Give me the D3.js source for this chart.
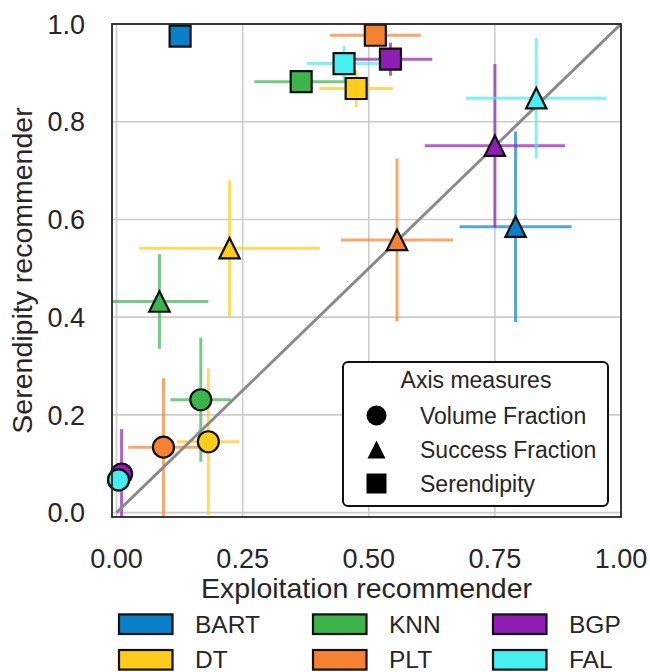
<!DOCTYPE html>
<html>
<head>
<meta charset="utf-8">
<script src="https://cdn.jsdelivr.net/npm/d3@7"></script>
<style>
  html, body { margin: 0; padding: 0; background: #fff; }
  svg { display: block; font-family: "Liberation Sans", Arial, sans-serif; }
</style>
</head>
<body>
<svg id="chart" width="650" height="672"></svg>
<script>
// ---- data (model order: BART, DT, KNN, PLT, BGP, FAL) ----
const models = ["BART", "DT", "KNN", "PLT", "BGP", "FAL"];
const modelColors = ["#0a80c8", "#fecc1a", "#3cb44b", "#f58231", "#911eb4", "#46f0f0"];

// Volume Fraction (circles)
const volX    = [0.004, 0.182, 0.167, 0.093, 0.010, 0.004];
const volY    = [0.067, 0.145, 0.231, 0.134, 0.079, 0.067];
const volXErr = [0, 0.062, 0.060, 0.070, 0, 0];
const volYErr = [0, 0.150, 0.127, 0.141, 0.092, 0];

// Success Fraction (triangles)
const sucX    = [0.791, 0.224, 0.085, 0.556, 0.750, 0.832];
const sucY    = [0.585, 0.541, 0.432, 0.558, 0.751, 0.848];
const sucXErr = [0.111, 0.179, 0.097, 0.111, 0.139, 0.139];
const sucYErr = [0.195, 0.139, 0.097, 0.167, 0.167, 0.123];

// Serendipity (squares)
const serX    = [0.126, 0.475, 0.366, 0.513, 0.543, 0.451];
const serY    = [0.975, 0.868, 0.882, 0.977, 0.928, 0.919];
const serXErr = [0, 0.073, 0.093, 0.090, 0.083, 0.074];
const serYErr = [0, 0.038, 0, 0, 0.034, 0.036];

const xTicks = [0, 0.25, 0.5, 0.75, 1.0];
const yTicks = [0, 0.2, 0.4, 0.6, 0.8, 1.0];
const measureNames = ["Volume Fraction", "Success Fraction", "Serendipity"];
const measureShapes = ["circle", "triangle", "square"];
const xLabel = "Exploitation recommender";
const yLabel = "Serendipity recommender";
const legendTitle = "Axis measures";

// ---- layout ----
const svg = d3.select("#chart");
const L = 112, R = 621, T = 24, B = 517;
const x = d3.scaleLinear().domain([-0.009, 1.0]).range([L, R]);
const y = d3.scaleLinear().domain([-0.009, 1.0]).range([B, T]);
const textColor = "#262626";

svg.append("defs").append("clipPath").attr("id", "clip")
  .append("rect").attr("x", L).attr("y", T).attr("width", R - L).attr("height", B - T);

// grid
const grid = svg.append("g");
grid.selectAll("line.gx").data(xTicks).join("line")
  .attr("x1", d => x(d)).attr("x2", d => x(d)).attr("y1", T).attr("y2", B)
  .attr("stroke", "#cccccc").attr("stroke-width", 1.6);
grid.selectAll("line.gy").data(yTicks).join("line")
  .attr("y1", d => y(d)).attr("y2", d => y(d)).attr("x1", L).attr("x2", R)
  .attr("stroke", "#cccccc").attr("stroke-width", 1.6);

// build records
const measures = [
  {shape: "circle",   X: volX, Y: volY, XE: volXErr, YE: volYErr},
  {shape: "triangle", X: sucX, Y: sucY, XE: sucXErr, YE: sucYErr},
  {shape: "square",   X: serX, Y: serY, XE: serXErr, YE: serYErr}
];
const recs = [];
measures.forEach(m => {
  models.forEach((name, i) => {
    recs.push({shape: m.shape, model: name, color: modelColors[i],
      x: m.X[i], y: m.Y[i], xe: m.XE[i], ye: m.YE[i]});
  });
});

const plot = svg.append("g").attr("clip-path", "url(#clip)");

// error bars
const eb = plot.append("g");
recs.forEach(r => {
  if (r.xe > 0) eb.append("line")
    .attr("x1", x(r.x - r.xe)).attr("x2", x(r.x + r.xe))
    .attr("y1", y(r.y)).attr("y2", y(r.y))
    .attr("stroke", r.color).attr("stroke-opacity", 0.7).attr("stroke-width", 3);
  if (r.ye > 0) eb.append("line")
    .attr("x1", x(r.x)).attr("x2", x(r.x))
    .attr("y1", y(r.y - r.ye)).attr("y2", y(r.y + r.ye))
    .attr("stroke", r.color).attr("stroke-opacity", 0.7).attr("stroke-width", 3);
});

// diagonal
plot.append("line")
  .attr("x1", x(0)).attr("y1", y(0)).attr("x2", x(1)).attr("y2", y(1))
  .attr("stroke", "#8a8a8a").attr("stroke-width", 3);

function shapePath(shape, s) {
  if (shape === "circle") {
    return d3.symbol().type(d3.symbolCircle).size(Math.PI * s * s)();
  } else if (shape === "square") {
    return `M${-s},${-s}L${s},${-s}L${s},${s}L${-s},${s}Z`;
  } else {
    return `M0,${-s}L${s},${s}L${-s},${s}Z`;
  }
}
const markerSize = {circle: 10.5, triangle: 10.2, square: 10.5};

const mk = svg.append("g");
recs.forEach(r => {
  mk.append("path")
    .attr("d", shapePath(r.shape, markerSize[r.shape]))
    .attr("transform", `translate(${x(r.x)},${y(r.y)})`)
    .attr("fill", r.color).attr("stroke", "#111").attr("stroke-width", 2.2);
});

// frame
svg.append("rect").attr("x", L).attr("y", T).attr("width", R - L).attr("height", B - T)
  .attr("fill", "none").attr("stroke", "#262626").attr("stroke-width", 1.8);

// ticks
svg.append("g").selectAll("text").data(xTicks).join("text")
  .attr("x", d => x(d)).attr("y", 568)
  .attr("text-anchor", "middle").attr("font-size", 27).attr("fill", textColor)
  .text(d => d3.format(".2f")(d));
svg.append("g").selectAll("text").data(yTicks).join("text")
  .attr("x", 85).attr("y", d => y(d) + 9.7)
  .attr("text-anchor", "end").attr("font-size", 27).attr("fill", textColor)
  .text(d => d3.format(".1f")(d));

// axis labels
svg.append("text").attr("x", (L + R) / 2).attr("y", 598)
  .attr("text-anchor", "middle").attr("font-size", 28.5).attr("fill", textColor)
  .text(xLabel);
svg.append("text").attr("transform", `translate(32,${(T + B) / 2}) rotate(-90)`)
  .attr("text-anchor", "middle").attr("font-size", 28.5).attr("fill", textColor)
  .text(yLabel);

// measure legend
const lg = svg.append("g");
lg.append("rect").attr("x", 343).attr("y", 362).attr("width", 265).attr("height", 144)
  .attr("rx", 5).attr("fill", "#fff").attr("stroke", "#111").attr("stroke-width", 2);
lg.append("text").attr("x", 476).attr("y", 388).attr("text-anchor", "middle")
  .attr("font-size", 23).attr("fill", textColor).text(legendTitle);
const legSizes = {circle: 10, triangle: 9, square: 10};
measureNames.forEach((nm, i) => {
  const cy = 415.5 + i * 34;
  lg.append("path").attr("d", shapePath(measureShapes[i], legSizes[measureShapes[i]]))
    .attr("transform", `translate(376.5,${cy})`).attr("fill", "#000");
  lg.append("text").attr("x", 420).attr("y", cy + 8).attr("font-size", 23)
    .attr("fill", textColor).text(nm);
});

// model legend (3 columns, column-major)
const ml = svg.append("g");
const colX = [119, 313, 493];
const rowY = [624.2, 659.8];
models.forEach((nm, i) => {
  const c = Math.floor(i / 2), r = i % 2;
  ml.append("rect").attr("x", colX[c]).attr("y", rowY[r] - 9.8)
    .attr("width", 53.5).attr("height", 19.6)
    .attr("fill", modelColors[i]).attr("stroke", "#111").attr("stroke-width", 2.2);
  ml.append("text").attr("x", colX[c] + 76).attr("y", rowY[r] + 8.5)
    .attr("font-size", 24.5).attr("fill", textColor).text(nm);
});
</script>
</body>
</html>
